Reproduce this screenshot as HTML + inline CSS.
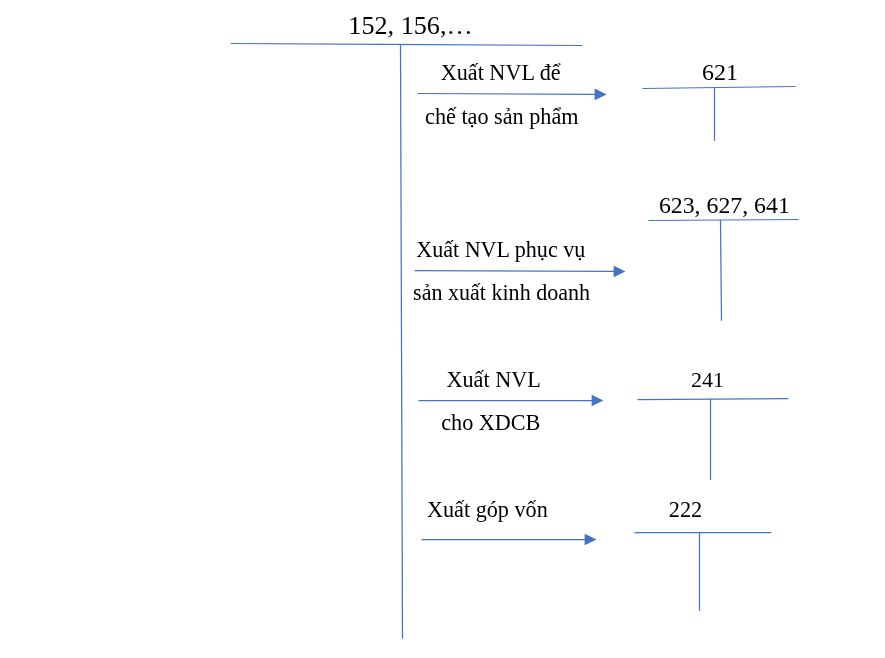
<!DOCTYPE html>
<html><head><meta charset="utf-8">
<style>
html,body{margin:0;padding:0;background:#fff;width:885px;height:658px;overflow:hidden}
svg{display:block;will-change:transform}
text{font-family:"Liberation Serif",serif;fill:#000}
</style></head>
<body>
<svg width="885" height="658" viewBox="0 0 885 658">
<g stroke="#4472C4" stroke-width="1.25" fill="none">
<line x1="230.6" y1="43.5" x2="582.3" y2="45.5"/>
<line x1="400.5" y1="44" x2="402.5" y2="638.6"/>
<line x1="642.4" y1="88.5" x2="795.5" y2="86.5"/>
<line x1="714.5" y1="87.5" x2="714.5" y2="140.9"/>
<line x1="648.4" y1="220.5" x2="798.5" y2="219.5"/>
<line x1="720.5" y1="220" x2="721.5" y2="320.7"/>
<line x1="637.5" y1="399.5" x2="788.3" y2="398.5"/>
<line x1="710.5" y1="399" x2="710.5" y2="479.9"/>
<line x1="634.5" y1="532.5" x2="771.3" y2="532.5"/>
<line x1="699.5" y1="532.5" x2="699.5" y2="610.9"/>
<line x1="417.6" y1="93.5" x2="595" y2="94.4"/>
<line x1="414.6" y1="270.5" x2="614" y2="271.4"/>
<line x1="418.5" y1="400.5" x2="592" y2="400.5"/>
<line x1="421.5" y1="539.5" x2="585" y2="539.5"/>
</g>
<g fill="#4472C4">
<path d="M594.6,88.6 L606.6,94.4 L594.6,100.2 Z"/>
<path d="M613.6,265.6 L625.4,271.4 L613.6,277.2 Z"/>
<path d="M591.6,394.7 L603.4,400.5 L591.6,406.3 Z"/>
<path d="M584.6,533.7 L596.5,539.5 L584.6,545.3 Z"/>
</g>
<text x="348.3" y="34.3" font-size="26.2">152, 156,…</text>
<text x="440.7" y="80.2" font-size="22.2">Xuất NVL để</text>
<text x="425.1" y="124" font-size="22.2">chế tạo sản phẩm</text>
<text x="702" y="80" font-size="24">621</text>
<text x="658.9" y="212.9" font-size="23.8">623, 627, 641</text>
<text x="416.2" y="257.3" font-size="22.1">Xuất NVL phục vụ</text>
<text x="413.1" y="300" font-size="22.05">sản xuất kinh doanh</text>
<text x="446.5" y="387" font-size="22.2">Xuất NVL</text>
<text x="441.2" y="429.8" font-size="22.2">cho XDCB</text>
<text x="691" y="386.6" font-size="22">241</text>
<text x="427" y="517.2" font-size="22.2">Xuất góp vốn</text>
<text x="668.8" y="516.6" font-size="22.3">222</text>
</svg>
</body></html>
